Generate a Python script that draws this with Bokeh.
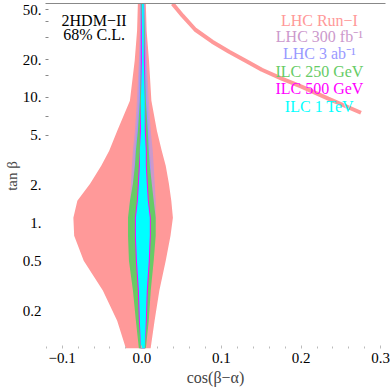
from bokeh.plotting import figure
from bokeh.models import Range1d, FixedTicker, LinearAxis, Label, CustomJSTickFormatter
from bokeh.embed import file_html
from bokeh.resources import INLINE

# tan(beta) grid on which region boundaries were read
tanb = [0.1, 0.166, 0.29, 0.5, 0.79, 1.1, 1.5, 2.05, 2.86, 3.76, 5.4, 9.4, 19.6, 34, 56]

# LHC Run-I (68% C.L.) allowed band: left / right cos(beta-alpha)
run1_lo = [-0.020, -0.031, -0.049, -0.073, -0.085, -0.086, -0.081, -0.065, -0.051, -0.041, -0.031, -0.015, -0.009, -0.006, -0.005]
run1_hi = [0.011, 0.016, 0.022, 0.030, 0.036, 0.039, 0.037, 0.034, 0.030, 0.025, 0.019, 0.012, 0.009, 0.006, 0.005]

# LHC Run-I wrong-sign branch
ws_cos = [0.0386, 0.0511, 0.0672, 0.0884, 0.1096, 0.1320, 0.1507, 0.1756, 0.2005, 0.2341, 0.2752]
ws_tanb = [55.8, 44.8, 34.6, 27.8, 23.1, 19.3, 16.6, 14.1, 12.2, 9.77, 7.55]

# LHC 300 fb^-1
l300_lo = [-0.0025, -0.005, -0.0087, -0.0137, -0.0149, -0.0162, -0.0149, -0.0137, -0.0125, -0.0112, -0.0087, -0.0062, -0.0037, -0.0025, -0.0025]
l300_hi = [0.0037, 0.0062, 0.0087, 0.0137, 0.0162, 0.0174, 0.0174, 0.0162, 0.0149, 0.0137, 0.0112, 0.0087, 0.0062, 0.005, 0.0037]

# LHC 3 ab^-1
l3ab_lo = [-0.003, -0.006, -0.009, -0.013, -0.014, -0.014, -0.013, -0.011, -0.0095, -0.0085, -0.0065, -0.004, -0.0025, -0.002, -0.002]
l3ab_hi = [0.004, 0.007, 0.009, 0.012, 0.014, 0.014, 0.013, 0.012, 0.011, 0.010, 0.009, 0.0065, 0.005, 0.0045, 0.003]

# ILC 250 GeV
i250_lo = [-0.0037, -0.0075, -0.0112, -0.0162, -0.0174, -0.0174, -0.0149, -0.0112, -0.0087, -0.0075, -0.005, -0.0025, -0.0012, -0.0012, -0.0012]
i250_hi = [0.005, 0.0087, 0.0112, 0.0149, 0.0174, 0.0174, 0.0149, 0.0125, 0.010, 0.0087, 0.0075, 0.005, 0.0037, 0.0037, 0.0025]

# ILC 500 GeV
i500_lo = [-0.0012, -0.0037, -0.005, -0.0075, -0.0087, -0.0087, -0.0062, -0.005, -0.0037, -0.0025, -0.0025, -0.0012, -0.0012, -0.0012, 0.0]
i500_hi = [0.0037, 0.0062, 0.0075, 0.010, 0.0112, 0.0112, 0.0087, 0.0075, 0.0062, 0.0062, 0.005, 0.0037, 0.0037, 0.0025, 0.0025]

# ILC 1 TeV
i1t_lo = [-0.0012, -0.0025, -0.0037, -0.0062, -0.0075, -0.0075, -0.005, -0.0037, -0.0025, -0.0025, -0.0012, -0.0012, 0.0, 0.0, 0.0]
i1t_hi = [0.0037, 0.005, 0.0062, 0.0087, 0.010, 0.010, 0.0075, 0.0062, 0.005, 0.005, 0.0037, 0.0037, 0.0025, 0.0025, 0.0025]

legend_labels = ["LHC Run\u2212I", "LHC 300 fb\u207b\u00b9", "LHC 3 ab\u207b\u00b9", "ILC 250 GeV", "ILC 500 GeV", "ILC 1 TeV"]
colors = ["#FF9999", "#CC99CC", "#9999FF", "#66CC66", "#FF00FF", "#00FFFF"]

x_ticks = [-0.1, 0.0, 0.1, 0.2, 0.3]
x_tick_labels = ["\u22120.1", "0.0", "0.1", "0.2", "0.3"]
x_minor = [-0.12, -0.08, -0.06, -0.04, -0.02, 0.02, 0.04, 0.06, 0.08, 0.12, 0.14, 0.16, 0.18, 0.22, 0.24, 0.26, 0.28]
y_ticks = [0.2, 0.5, 1, 2, 5, 10, 20, 50]
y_tick_labels = ["0.2", "0.5", "1.", "2.", "5.", "10.", "20.", "50."]
y_marks = [5, 7, 10, 15, 20, 30, 40, 50]

FONT = "Liberation Serif"

p = figure(width=390, height=388, output_backend="svg", toolbar_location=None,
           y_axis_type="log", x_range=Range1d(-0.121, 0.306), y_range=Range1d(0.1, 56),
           min_border_left=42, min_border_right=5, min_border_top=3, min_border_bottom=40)
p.outline_line_color = None
p.grid.visible = False
p.background_fill_color = "white"
p.border_fill_color = "white"

regions = [(run1_lo, run1_hi), (l300_lo, l300_hi), (l3ab_lo, l3ab_hi),
           (i250_lo, i250_hi), (i500_lo, i500_hi), (i1t_lo, i1t_hi)]
for (lo, hi), c in zip(regions, colors):
    p.harea(x1=lo, x2=hi, y=tanb, fill_color=c, fill_alpha=1.0)
    if c == colors[0]:
        p.line(ws_cos, ws_tanb, line_color=c, line_width=4)

def fmt(vals, labs):
    return CustomJSTickFormatter(args=dict(vals=vals, labs=labs), code="""
        for (let i = 0; i < vals.length; i++) {
            if (Math.abs(vals[i] - tick) < 1e-9 * Math.max(1, Math.abs(tick))) { return labs[i]; }
        }
        return "";
    """)

xa = p.xaxis[0]
xa.ticker = FixedTicker(ticks=x_ticks, minor_ticks=x_minor)
xa.formatter = fmt(x_ticks, x_tick_labels)
xa.axis_line_color = None
xa.major_tick_in = 3
xa.major_tick_out = 0
xa.minor_tick_in = 2
xa.minor_tick_out = 0
xa.major_tick_line_color = "#bbbbbb"
xa.minor_tick_line_color = "#bbbbbb"
xa.major_label_text_font = FONT
xa.major_label_text_font_size = "15px"
xa.major_label_text_color = "black"
xa.major_label_standoff = 4
xa.axis_label = "cos(\u03b2\u2212\u03b1)"
xa.axis_label_text_font = FONT
xa.axis_label_text_font_size = "16px"
xa.axis_label_text_font_style = "normal"
xa.axis_label_standoff = 3

ya = p.yaxis[0]
ya.ticker = FixedTicker(ticks=y_ticks, minor_ticks=y_marks)
ya.formatter = fmt(y_ticks, y_tick_labels)
ya.axis_line_color = None
ya.major_tick_line_color = None
ya.major_tick_in = 0
ya.major_tick_out = 0
ya.minor_tick_in = 3
ya.minor_tick_out = 0
ya.minor_tick_line_color = "#888888"
ya.major_label_text_font = FONT
ya.major_label_text_font_size = "15px"
ya.major_label_text_color = "black"
ya.major_label_standoff = 4
ya.axis_label = "tan \u03b2"
ya.axis_label_text_font = FONT
ya.axis_label_text_font_size = "15px"
ya.axis_label_text_font_style = "normal"
ya.axis_label_standoff = 0

top = LinearAxis(ticker=FixedTicker(ticks=[]), major_label_text_font_size="0px",
                 axis_line_color="#888888", axis_line_width=1,
                 major_tick_out=0, major_tick_in=0, minor_tick_out=0, minor_tick_in=0,
                 major_label_standoff=0)
p.add_layout(top, "above")

# legend (text only)
leg_x = 0.223
leg_y = [40.8, 30.5, 22.3, 16.0, 11.7, 8.4]
for t, c, yy in zip(legend_labels, colors, leg_y):
    p.add_layout(Label(x=leg_x, y=yy, text=t, text_color=c, text_font=FONT,
                       text_font_size="16px", text_align="center", text_baseline="middle"))

p.add_layout(Label(x=-0.060, y=40.8, text="2HDM\u2212II", text_font=FONT, text_font_size="16px",
                   text_align="center", text_baseline="middle", text_color="black"))
p.add_layout(Label(x=-0.060, y=31.7, text="68% C.L.", text_font=FONT, text_font_size="16px",
                   text_align="center", text_baseline="middle", text_color="black"))

open("out.html", "w").write(file_html(p, INLINE))
